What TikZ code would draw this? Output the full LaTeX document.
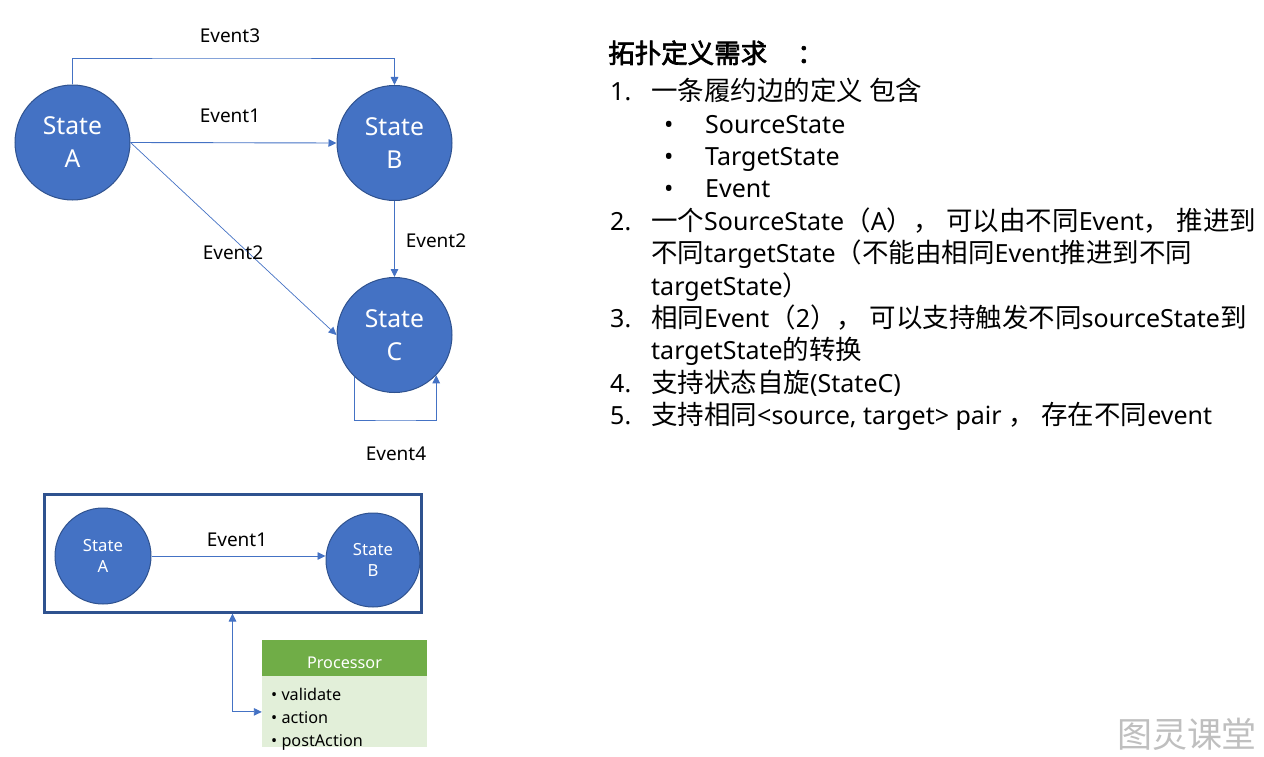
\documentclass[tikz,border=0pt]{standalone}
\usepackage{fontspec}
\setmainfont{Noto Sans}
\newfontfamily\cjkfont[Scale=1.06]{Noto Sans CJK SC}
\newfontfamily\cjkbold[FakeBold=2.5]{Noto Sans CJK SC}
\newcommand{\zh}[1]{{\cjkfont #1}}
\usetikzlibrary{arrows.meta}
\usetikzlibrary{positioning}
\definecolor{stateblue}{HTML}{4472C4}
\definecolor{stateedge}{HTML}{2F528F}
\definecolor{procgreen}{HTML}{70AD47}
\definecolor{proclight}{HTML}{E2EFD9}

\begin{document}
\begin{tikzpicture}[x=1pt,y=-1pt,
  state/.style={circle,draw=stateedge,line width=1pt,fill=stateblue,text=white,align=center,inner sep=0pt,minimum size=115pt,font=\fontsize{24.7}{33}\selectfont},
  smallstate/.style={state,minimum size=96pt,font=\fontsize{16.7}{21}\selectfont},
  flow/.style={draw=stateblue,line width=0.9pt,-{Triangle[length=8pt,width=7.5pt]}},
  evtext/.style={inner sep=0pt,font=\fontsize{19}{22}\selectfont},
  txt/.style={anchor=base west,inner sep=0pt,font=\fontsize{25}{30}\selectfont},
  proctext/.style={anchor=base west,inner sep=0pt,font=\fontsize{16.2}{20}\selectfont}]
\useasboundingbox (0,0) rectangle (1264,757);

% upper graph
\node[state] (A) at (72.5,142.5) {State\\A};
\node[state] (B) at (394.5,143) {State\\B};
\node[state] (C) at (394.5,335) {State\\C};
\coordinate (top) at (230,58);
\coordinate (loop) at (396,420);
\draw[flow] (A.north) |- (top) -| (B.north);
\draw[flow] (A.east) -- (B.west);
\draw[flow,line width=0.7pt] (A.east) -- (C.west);
\draw[flow] (B.south) -- (C.north);
\draw[flow] (C.226) |- (loop) -| (C.316);
\node[evtext] (ev3) at (230,36) {Event3};
\node[evtext] (ev1) at (230,116) {Event1};
\node[evtext] (ev2a) at (233,253) {Event2};
\node[evtext] (ev2b) at (436,241) {Event2};
\node[evtext] (ev4) at (396,454) {Event4};

% lower graph
\node[draw=stateedge,line width=3pt,minimum width=377pt,minimum height=118pt,inner sep=0pt] (frame) at (232.5,553) {};
\node[smallstate] (a2) at (103,556) {State\\A};
\node[smallstate,minimum size=94pt] (b2) at (373,560) {State\\B};
\draw[flow] (a2.east) -- (a2.east -| b2.west);
\node[evtext] (ev1b) at (237,540) {Event1};

\node[fill=procgreen,minimum width=165pt,minimum height=36pt,inner sep=0pt,text=white,font=\fontsize{16.2}{20}\selectfont,text height=20pt,text depth=0pt] (phead) at (344.5,658) {Processor};
\node[fill=proclight,minimum width=165pt,minimum height=71pt,inner sep=0pt,below=0pt of phead] (pbody) {};
\foreach \t [count=\i] in {validate,action,postAction}
  \node[proctext] (item\i) at (271,677+23*\i) {• \t};
\draw[flow,{Triangle[length=8pt,width=7.5pt]}-{Triangle[length=8pt,width=7.5pt]}] (frame.south) |- (pbody.west);

% requirements
\node[txt,font=\fontsize{26.5}{30}\cjkbold] (title) at (608,63) {拓扑定义需求\hspace{30pt}：};
\node[txt] (n1) at (610,101) {1.};
\node[txt] (l1) at (651,101) {\zh{一条履约边的定义 包含}};
\foreach \t [count=\i] in {SourceState,TargetState,Event}{
  \node[txt] (dot\i) at (664,101+32.3*\i) {•};
  \node[txt] (sub\i) at (705,101+32.3*\i) {\t};}
\node[txt] (n2) at (610,230) {2.};
\node[txt] (l2) at (651,230) {\zh{一个}SourceState\zh{（}A\zh{），}\ \zh{可以由不同}Event\zh{，}\ \zh{推进到}};
\node[txt] (l2b) at (651,262) {\zh{不同}targetState\zh{（不能由相同}Event\zh{推进到不同}};
\node[txt] (l2c) at (651,295) {targetState\zh{）}};
\node[txt] (n3) at (610,327) {3.};
\node[txt] (l3) at (651,327) {\zh{相同}Event\zh{（}2\zh{），}\ \zh{可以支持触发不同}sourceState\zh{到}};
\node[txt] (l3b) at (651,359) {targetState\zh{的转换}};
\node[txt] (n4) at (610,392) {4.};
\node[txt] (l4) at (651,392) {\zh{支持状态自旋}(StateC)};
\node[txt] (n5) at (610,424) {5.};
\node[txt] (l5) at (651,424) {\zh{支持相同}<source, target> pair \zh{，}\ \zh{存在不同}event};

\node[text=gray!50,inner sep=0pt,font=\fontsize{33}{40}\cjkfont] (mark) at (1187,734) {图灵课堂};
\end{tikzpicture}
\end{document}
